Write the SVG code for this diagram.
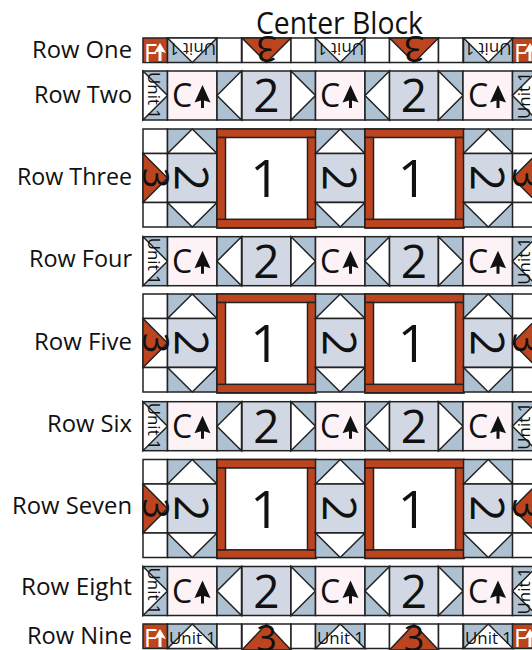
<svg xmlns="http://www.w3.org/2000/svg" width="532" height="650" viewBox="0 0 532 650">
<style>
text{font-family:"Open Sans","Noto Sans","Liberation Sans",sans-serif;fill:#111}
.lab{font-size:24px}
.ttl{font-size:31px}
.u{font-size:17px}
.c{font-size:32px}
.n2{font-size:46px;text-anchor:middle}
.n1{font-size:52px;text-anchor:middle}
.n3{font-size:36px;text-anchor:middle}
.f{font-size:25px;fill:#fff}
.s{stroke:#222;stroke-width:1.5;stroke-linejoin:miter}
.w{fill:#fff}.b{fill:#aec1d3}.o{fill:#bc4520}.l{fill:#d2d7e4}.p{fill:#fdf3f7}
</style>
<defs>
<g id="a-up"><path d="M0 0L-8 17.500L-1.500 15.500V23H1.500V15.500L8 17.500Z" fill="#111"/></g>
<g id="a-wh"><path d="M0 0L-6 10L-1.500 8.500V18H1.500V8.500L6 10Z" fill="#fff"/></g>
<g id="t-c"><rect class="p s" width="49.500" height="49"/></g>
<g id="t-2"><rect class="l s" width="49" height="49"/></g>
<g id="t-l"><rect class="b s" width="24.500" height="49"/><path class="w s" d="M24.500 0V49L0 24.500Z"/></g>
<g id="t-r"><rect class="b s" width="24.500" height="49"/><path class="w s" d="M0 0V49L24.500 24.500Z"/></g>
<g id="t-up"><rect class="b s" width="49.500" height="24.500"/><path class="w s" d="M0 24.500H49.500L24.750 0Z"/></g>
<g id="t-dn"><rect class="b s" width="49.500" height="24.500"/><path class="w s" d="M0 0H49.500L24.750 24.500Z"/></g>
<g id="t-w"><rect class="w s" width="24.500" height="24.500"/></g>
<g id="t-3dn"><rect class="w s" width="49" height="24.500"/><path class="o s" d="M0 0H49L24.500 24.500Z"/></g>
<g id="t-3up"><rect class="w s" width="49" height="26"/><path class="o s" d="M0 26H49L24.500 0Z"/></g>
<g id="t-3r"><rect class="w s" width="24.500" height="49"/><path class="o s" d="M0 0V49L24.500 24.500Z"/></g>
<g id="t-3l"><rect class="w s" width="24.500" height="49"/><path class="o s" d="M24.500 0V49L0 24.500Z"/></g>
<g id="t-1">
<rect class="w s" width="99" height="99"/>
<rect class="o s" width="99" height="8.500"/>
<rect class="o s" y="90.300" width="99" height="8.500"/>
<rect class="o s" y="8.500" width="8.500" height="81.800"/>
<rect class="o s" x="90.500" y="8.500" width="8.500" height="81.800"/>
</g>
<g id="t-f"><rect class="o s" width="24.500" height="24.500"/></g>
<g id="row-small">
<use href="#t-r" x="143"/><use href="#t-c" x="167.500"/><use href="#t-l" x="217"/><use href="#t-2" x="242"/><use href="#t-r" x="291"/><use href="#t-c" x="315.500"/><use href="#t-l" x="365"/><use href="#t-2" x="389.500"/><use href="#t-r" x="438.500"/><use href="#t-c" x="463"/><use href="#t-l" x="512.500"/>
</g>
<g id="row-big">
<use href="#t-w" x="143"/><use href="#t-3r" x="143" y="24.500"/><use href="#t-w" x="143" y="73.500"/>
<use href="#t-up" x="167.500"/><rect class="l s" x="167.500" y="24.500" width="49.500" height="49"/><use href="#t-dn" x="167.500" y="73.500"/>
<use href="#t-1" x="217"/>
<use href="#t-up" x="315.500"/><rect class="l s" x="315.500" y="24.500" width="49.500" height="49"/><use href="#t-dn" x="315.500" y="73.500"/>
<use href="#t-1" x="365"/>
<use href="#t-up" x="463.500"/><rect class="l s" x="463.500" y="24.500" width="49" height="49"/><use href="#t-dn" x="463.500" y="73.500"/>
<use href="#t-w" x="512.500"/><use href="#t-3l" x="512.500" y="24.500"/><use href="#t-w" x="512.500" y="73.500"/>
</g>
</defs>

<text id="title" class="ttl" x="256" y="34" textLength="167" lengthAdjust="spacingAndGlyphs">Center Block</text>

<g id="row-1">
<text class="lab" x="32" y="58" textLength="100" lengthAdjust="spacingAndGlyphs">Row One</text>
<use href="#t-f" x="143" y="38"/><text class="f" x="144" y="61.500">F</text><use href="#a-wh" x="160" y="43"/>
<use href="#t-dn" x="167.500" y="38"/><text class="u" transform="translate(192.500 43) rotate(180)" text-anchor="middle" textLength="47" lengthAdjust="spacingAndGlyphs">Unit 1</text>
<use href="#t-w" x="217" y="38"/>
<use href="#t-3dn" x="242" y="38"/><text class="n3" transform="translate(266.500 36) rotate(180)">3</text>
<use href="#t-w" x="291" y="38"/>
<use href="#t-dn" x="315.500" y="38"/><text class="u" transform="translate(340.500 43) rotate(180)" text-anchor="middle" textLength="47" lengthAdjust="spacingAndGlyphs">Unit 1</text>
<use href="#t-w" x="365" y="38"/>
<use href="#t-3dn" x="389.500" y="38"/><text class="n3" transform="translate(414 36) rotate(180)">3</text>
<use href="#t-w" x="438.500" y="38"/>
<use href="#t-dn" x="463.500" y="38"/><text class="u" transform="translate(488 43) rotate(180)" text-anchor="middle" textLength="47" lengthAdjust="spacingAndGlyphs">Unit 1</text>
<use href="#t-f" x="512.500" y="38"/><text class="f" x="514" y="61.500">F</text><use href="#a-wh" x="530" y="43"/>
</g>

<g id="row-2" transform="translate(0 71)">
<use href="#row-small"/>
<text class="lab" x="34" y="32" textLength="98" lengthAdjust="spacingAndGlyphs">Row Two</text>
<text class="u" transform="translate(148 24.500) rotate(90)" text-anchor="middle" textLength="47" lengthAdjust="spacingAndGlyphs">Unit 1</text>
<text class="c" x="172" y="36">C</text><use href="#a-up" x="202.500" y="14"/>
<text class="n2" x="266.500" y="41">2</text>
<text class="c" x="320" y="36">C</text><use href="#a-up" x="350.500" y="14"/>
<text class="n2" x="414" y="41">2</text>
<text class="c" x="468" y="36">C</text><use href="#a-up" x="498" y="14"/>
<text class="u" transform="translate(530 24.500) rotate(-90)" text-anchor="middle" textLength="47" lengthAdjust="spacingAndGlyphs">Unit 1</text>
</g>

<g id="row-3" transform="translate(0 129)">
<use href="#row-big"/>
<text class="lab" x="17" y="56" textLength="115" lengthAdjust="spacingAndGlyphs">Row Three</text>
<text class="n3" transform="translate(143 49) rotate(90)">3</text>
<text class="n2" transform="translate(175 49) rotate(90)">2</text>
<text class="n1" x="265" y="68">1</text>
<text class="n2" transform="translate(323 49) rotate(90)">2</text>
<text class="n1" x="412.500" y="68">1</text>
<text class="n2" transform="translate(471 49) rotate(90)">2</text>
<text class="n3" transform="translate(513 49) rotate(90)">3</text>
</g>

<g id="row-4" transform="translate(0 236.700)">
<use href="#row-small"/>
<text class="lab" x="29" y="30" textLength="103" lengthAdjust="spacingAndGlyphs">Row Four</text>
<text class="u" transform="translate(148 24.500) rotate(90)" text-anchor="middle" textLength="47" lengthAdjust="spacingAndGlyphs">Unit 1</text>
<text class="c" x="172" y="36">C</text><use href="#a-up" x="202.500" y="14"/>
<text class="n2" x="266.500" y="41">2</text>
<text class="c" x="320" y="36">C</text><use href="#a-up" x="350.500" y="14"/>
<text class="n2" x="414" y="41">2</text>
<text class="c" x="468" y="36">C</text><use href="#a-up" x="498" y="14"/>
<text class="u" transform="translate(530 24.500) rotate(-90)" text-anchor="middle" textLength="47" lengthAdjust="spacingAndGlyphs">Unit 1</text>
</g>

<g id="row-5" transform="translate(0 294)">
<use href="#row-big"/>
<text class="lab" x="34" y="56" textLength="98" lengthAdjust="spacingAndGlyphs">Row Five</text>
<text class="n3" transform="translate(143 49) rotate(90)">3</text>
<text class="n2" transform="translate(175 49) rotate(90)">2</text>
<text class="n1" x="265" y="68">1</text>
<text class="n2" transform="translate(323 49) rotate(90)">2</text>
<text class="n1" x="412.500" y="68">1</text>
<text class="n2" transform="translate(471 49) rotate(90)">2</text>
<text class="n3" transform="translate(513 49) rotate(90)">3</text>
</g>

<g id="row-6" transform="translate(0 401.700)">
<use href="#row-small"/>
<text class="lab" x="47" y="30" textLength="85" lengthAdjust="spacingAndGlyphs">Row Six</text>
<text class="u" transform="translate(148 24.500) rotate(90)" text-anchor="middle" textLength="47" lengthAdjust="spacingAndGlyphs">Unit 1</text>
<text class="c" x="172" y="36">C</text><use href="#a-up" x="202.500" y="14"/>
<text class="n2" x="266.500" y="41">2</text>
<text class="c" x="320" y="36">C</text><use href="#a-up" x="350.500" y="14"/>
<text class="n2" x="414" y="41">2</text>
<text class="c" x="468" y="36">C</text><use href="#a-up" x="498" y="14"/>
<text class="u" transform="translate(530 24.500) rotate(-90)" text-anchor="middle" textLength="47" lengthAdjust="spacingAndGlyphs">Unit 1</text>
</g>

<g id="row-7" transform="translate(0 459.500)">
<use href="#row-big"/>
<text class="lab" x="12" y="54" textLength="120" lengthAdjust="spacingAndGlyphs">Row Seven</text>
<text class="n3" transform="translate(143 49) rotate(90)">3</text>
<text class="n2" transform="translate(175 49) rotate(90)">2</text>
<text class="n1" x="265" y="68">1</text>
<text class="n2" transform="translate(323 49) rotate(90)">2</text>
<text class="n1" x="412.500" y="68">1</text>
<text class="n2" transform="translate(471 49) rotate(90)">2</text>
<text class="n3" transform="translate(513 49) rotate(90)">3</text>
</g>

<g id="row-8" transform="translate(0 566.500)">
<use href="#row-small"/>
<text class="lab" x="21" y="28" textLength="111" lengthAdjust="spacingAndGlyphs">Row Eight</text>
<text class="u" transform="translate(148 24.500) rotate(90)" text-anchor="middle" textLength="47" lengthAdjust="spacingAndGlyphs">Unit 1</text>
<text class="c" x="172" y="36">C</text><use href="#a-up" x="202.500" y="14"/>
<text class="n2" x="266.500" y="41">2</text>
<text class="c" x="320" y="36">C</text><use href="#a-up" x="350.500" y="14"/>
<text class="n2" x="414" y="41">2</text>
<text class="c" x="468" y="36">C</text><use href="#a-up" x="498" y="14"/>
<text class="u" transform="translate(530 24.500) rotate(-90)" text-anchor="middle" textLength="47" lengthAdjust="spacingAndGlyphs">Unit 1</text>
</g>

<g id="row-9" transform="translate(0 624)">
<text class="lab" x="27" y="20" textLength="105" lengthAdjust="spacingAndGlyphs">Row Nine</text>
<use href="#t-f" x="143"/><text class="f" x="144" y="23">F</text><use href="#a-wh" x="160" y="5"/>
<use href="#t-up" x="167.500"/><text class="u" x="169" y="20" textLength="47" lengthAdjust="spacingAndGlyphs">Unit 1</text>
<use href="#t-w" x="217"/>
<use href="#t-3up" x="242"/><text class="n3" x="266.500" y="27">3</text>
<use href="#t-w" x="291"/>
<use href="#t-up" x="315.500"/><text class="u" x="317" y="20" textLength="47" lengthAdjust="spacingAndGlyphs">Unit 1</text>
<use href="#t-w" x="365"/>
<use href="#t-3up" x="389.500"/><text class="n3" x="414" y="27">3</text>
<use href="#t-w" x="438.500"/>
<use href="#t-up" x="463.500"/><text class="u" x="465" y="20" textLength="47" lengthAdjust="spacingAndGlyphs">Unit 1</text>
<use href="#t-f" x="512.500"/><text class="f" x="514" y="23">F</text><use href="#a-wh" x="530" y="5"/>
</g>
</svg>
